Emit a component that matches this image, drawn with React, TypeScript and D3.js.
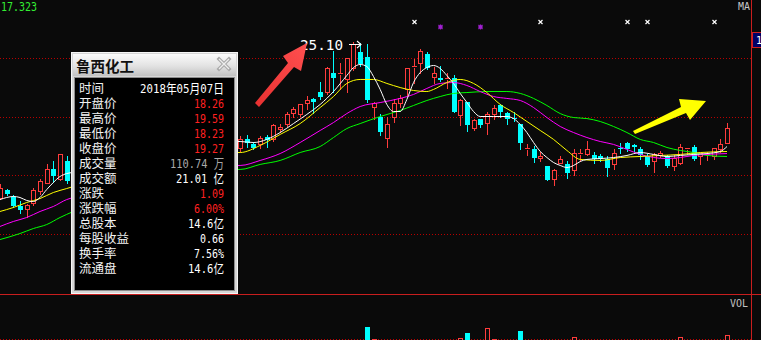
import React from "react";
import * as d3 from "d3";

const W = 761;
const H = 340;
const BG = "#0a0a0a";
const RED = "#ff3c3c";
const CYAN = "#00ffff";
const GRID = "#b80000";

// candle index (trading day position); 11..35 are covered by the info window
const candleIdx = [
  0, 1, 2, 3, 4, 5, 6, 7, 8, 9, 10,
  36, 37, 38, 39, 40, 41, 42, 43, 44, 45,
  46, 47, 48, 49, 50, 51, 52, 53, 54, 55,
  56, 57, 58, 59, 60, 61, 62, 63, 64, 65,
  66, 67, 68, 69, 70, 71, 72, 73, 74, 75,
  76, 77, 78, 79, 80, 81, 82, 83, 84, 85,
  86, 87, 88, 89, 90, 91, 92, 93, 94, 95,
  96, 97, 98, 99, 100, 101, 102, 103, 104, 105,
  106, 107, 108, 109,
];
const openP = [
  14.53, 15.01, 14.55, 13.92, 13.78, 14.19, 14.94, 15.55, 16.5, 15.82, 16.98,
  17.93, 18.48, 18.14, 18.14, 18.68, 18.48, 19.16, 19.5, 20.31, 20.18,
  20.93, 21.2, 21.74, 21.74, 23.03, 22.9, 22.56, 23.37, 24.46, 24.12,
  20.72, 20.04, 18.61, 20.04, 20.99, 21.88, 23.44, 23.71, 24.26, 22.76,
  22.63, 22.56, 22.69, 20.11, 21.06, 19.29, 19.84, 19.63, 20.18, 20.79,
  20.31, 19.97, 19.5, 17.8, 17.86, 17.25, 16.64, 15.82, 16.91, 16.84,
  16.37, 17.52, 17.46, 17.39, 17.32, 17.12, 16.78, 17.93, 18.27, 18.07,
  17.86, 17.32, 16.98, 17.39, 17.32, 16.64, 16.91, 17.8, 18.0, 17.32,
  17.39, 17.32, 17.86, 18.26,
];
const highP = [
  15.48, 15.14, 14.67, 14.26, 14.1, 15.2, 15.8, 16.8, 17.0, 17.5, 17.32,
  18.7, 18.75, 18.3, 18.7, 18.75, 19.5, 19.56, 20.33, 20.72, 20.9,
  21.42, 21.33, 22.4, 23.4, 24.48, 23.71, 24.0, 25.1, 25.05, 24.94,
  21.06, 20.18, 20.04, 21.2, 21.53, 23.37, 23.92, 24.6, 24.42, 23.44,
  23.51, 23.03, 22.83, 21.2, 21.06, 19.84, 19.84, 20.33, 20.79, 20.86,
  20.33, 20.38, 19.5, 18.14, 18.02, 17.6, 16.7, 16.44, 17.32, 16.98,
  17.8, 17.8, 18.36, 17.6, 17.5, 17.32, 17.8, 18.27, 18.3, 18.2,
  18.0, 17.46, 17.59, 17.7, 17.4, 17.39, 18.14, 17.93, 18.07, 17.59,
  17.6, 17.93, 18.48, 19.59,
];
const lowP = [
  14.4, 14.67, 13.88, 13.51, 13.2, 14.0, 14.8, 15.5, 15.6, 15.75, 15.55,
  17.7, 18.0, 17.8, 17.9, 18.0, 18.4, 19.02, 19.4, 20.04, 20.1,
  20.52, 20.31, 21.2, 21.6, 21.74, 21.88, 21.7, 23.2, 23.5, 21.06,
  19.84, 18.8, 18.0, 19.65, 20.72, 21.53, 22.35, 23.03, 23.3, 22.35,
  22.45, 21.95, 20.38, 19.43, 19.04, 19.11, 19.36, 18.88, 19.9, 20.0,
  19.5, 19.72, 17.86, 17.39, 16.93, 16.98, 15.69, 15.41, 16.91, 15.89,
  16.03, 16.98, 17.39, 16.9, 17.0, 15.98, 16.44, 17.59, 17.66, 17.66,
  17.18, 16.66, 16.25, 17.3, 16.6, 16.39, 16.78, 17.46, 17.05, 16.78,
  17.05, 17.12, 17.6, 18.23,
];
const closeP = [
  15.21, 14.8, 13.94, 13.71, 14.0, 15.01, 15.62, 16.44, 15.96, 17.46, 15.62,
  18.54, 18.27, 17.93, 18.61, 18.41, 19.43, 19.36, 20.24, 20.52, 20.86,
  21.15, 21.0, 21.4, 23.37, 22.69, 23.03, 23.99, 24.94, 23.58, 21.13,
  20.99, 19.02, 19.56, 20.93, 21.33, 23.31, 23.51, 24.53, 23.31, 23.03,
  22.49, 22.63, 20.38, 21.13, 19.43, 19.77, 19.43, 20.24, 20.65, 20.38,
  19.9, 19.9, 18.27, 17.93, 17.25, 17.32, 15.69, 16.37, 17.18, 16.23,
  17.59, 17.59, 17.86, 17.12, 17.18, 16.57, 17.59, 17.8, 17.8, 18.0,
  17.39, 16.71, 17.46, 17.59, 16.64, 17.25, 18.0, 17.93, 17.12, 17.59,
  17.52, 17.93, 18.2, 19.27,
];

// moving averages: [index, price]
const ma5: [number, number][] = [
  [0, 14.39], [1, 14.53], [2, 14.6], [3, 14.53], [4, 14.33], [5, 14.26], [6, 14.53], [7, 15.07], [8, 15.55], [9, 15.96], [10, 16.16], [11, 16.23],
  [35, 18.34], [36, 18.34], [38, 18.27], [40, 18.48], [42, 18.95], [44, 19.56], [46, 20.18], [48, 20.86], [50, 21.74], [52, 22.83], [53, 23.37], [54, 23.58],
  [55, 23.44], [56, 22.76], [57, 21.88], [58, 20.86], [59, 20.38], [60, 20.38], [61, 21.2], [62, 22.35], [63, 23.03], [64, 23.37], [65, 23.51],
  [66, 23.31], [67, 22.83], [68, 22.29], [69, 21.61], [70, 21.0], [71, 20.38], [72, 20.04], [74, 20.04], [76, 20.04], [77, 19.9], [78, 19.5],
  [79, 18.95], [80, 18.27], [81, 17.66], [82, 17.25], [83, 16.91], [84, 16.71], [85, 16.57], [86, 16.71], [87, 16.98], [88, 17.12], [90, 17.18],
  [92, 17.25], [94, 17.39], [96, 17.59], [98, 17.46], [100, 17.32], [102, 17.39], [104, 17.46], [106, 17.52], [108, 17.66], [109, 18.0],
];
const ma10: [number, number][] = [
  [0, 13.58], [2, 13.85], [4, 14.19], [6, 14.46], [8, 14.87], [10, 15.14], [11, 15.28],
  [35, 17.59], [36, 17.59], [39, 18.07], [42, 18.82], [45, 19.56], [48, 20.65], [50, 21.4], [52, 22.29], [54, 22.56], [56, 22.56],
  [58, 22.29], [60, 22.01], [62, 21.81], [64, 21.74], [65, 21.88], [67, 22.35], [69, 22.56], [71, 22.29], [73, 21.67], [75, 20.86],
  [77, 20.31], [79, 19.7], [81, 19.09], [83, 18.48], [85, 17.73], [87, 17.12], [90, 17.05], [93, 17.25], [96, 17.32], [99, 17.39],
  [102, 17.46], [105, 17.59], [109, 17.66],
];
const ma20: [number, number][] = [
  [0, 12.56], [2, 12.9], [4, 13.17], [6, 13.58], [8, 13.92], [10, 14.39], [11, 14.53],
  [35, 16.71], [36, 16.71], [39, 17.05], [42, 17.52], [45, 18.27], [48, 19.09], [50, 19.63], [52, 20.24], [54, 20.72], [57, 20.99],
  [60, 21.27], [62, 21.54], [64, 21.95], [66, 22.29], [68, 22.35], [70, 22.15], [72, 21.74], [74, 21.4], [76, 21.27], [78, 21.13],
  [80, 20.65], [82, 19.97], [84, 19.36], [86, 18.95], [88, 18.61], [90, 18.34], [92, 18.14], [94, 17.8], [96, 17.46], [98, 17.25],
  [100, 17.18], [102, 17.25], [104, 17.39], [106, 17.46], [109, 17.52],
];
const ma60: [number, number][] = [
  [0, 11.67], [3, 12.08], [5, 12.42], [7, 12.69], [9, 13.17], [11, 13.58],
  [35, 16.44], [36, 16.44], [39, 16.78], [42, 17.05], [45, 17.59], [48, 18.0], [50, 18.61], [52, 19.22], [54, 19.56], [57, 20.04],
  [60, 20.45], [62, 20.79], [64, 21.13], [66, 21.4], [68, 21.61], [70, 21.67], [73, 21.74], [76, 21.74], [78, 21.61], [80, 21.27],
  [82, 20.79], [84, 20.24], [86, 19.97], [88, 19.9], [90, 19.7], [92, 19.36], [94, 18.95], [96, 18.48], [98, 18.27], [100, 17.93],
  [102, 17.73], [104, 17.59], [106, 17.39], [109, 17.32],
];

// volume (万手) for bars that reach into the visible part of the VOL pane
const volIdx = [55, 56, 69, 70, 73, 74, 78, 86, 102, 109];
const volVal = [121.7, 105, 107, 114, 120, 105, 116, 108, 108, 110.74];

const gridPrices = [24, 20, 16, 12];
const whiteMarks = [62, 81, 94, 97, 107];
const purpleMarks = [66, 72];

const infoTitle = "鲁西化工";
const infoLabels = ["时间", "开盘价", "最高价", "最低价", "收盘价", "成交量", "成交额", "涨跌", "涨跌幅", "总股本", "每股收益", "换手率", "流通盘"];
const infoValues = ["2018年05月07日", "18.26", "19.59", "18.23", "19.27", "110.74 万", "21.01 亿", "1.09", "6.00%", "14.6亿", "0.66", "7.56%", "14.6亿"];
const infoColors = ["#ffffff", "#ff2020", "#ff2020", "#ff2020", "#ff2020", "#a8a8a8", "#ffffff", "#ff2020", "#ff2020", "#ffffff", "#ffffff", "#ffffff", "#ffffff"];

const peakLabel = "25.10";
const topLeftLabel = "17.323";

const MONO = "'DejaVu Sans Mono', 'Noto Sans CJK SC', monospace";
const CJK = "'Noto Sans CJK SC', sans-serif";

function textLen(s: string) {
  let n = 0;
  for (const ch of s) n += /[\u3000-\u9fff]/.test(ch) ? 12 : 6;
  return n;
}

function segments(pts: [number, number][]) {
  const out: [number, number][][] = [];
  let cur: [number, number][] = [];
  pts.forEach((p, i) => {
    if (i > 0 && p[0] - pts[i - 1][0] > 10) {
      out.push(cur);
      cur = [];
    }
    cur.push(p);
  });
  out.push(cur);
  return out;
}

export default function App() {
  const x = d3.scaleLinear().domain([0, 109]).range([0, 727]);
  const y = d3.scaleLinear().domain([8, 28]).range([293.5, -0.5]);
  const yv = d3.scaleLinear().domain([0, 140]).range([418, 313]);
  const px = (k: number) => Math.round(x(k));
  const line = d3
    .line<[number, number]>()
    .x((d) => x(d[0]))
    .y((d) => y(d[1]))
    .curve(d3.curveMonotoneX);

  const maSpecs: [[number, number][], string][] = [
    [ma60, "#00ff00"],
    [ma20, "#ff00ff"],
    [ma10, "#ffff00"],
    [ma5, "#ffffff"],
  ];

  const candles = candleIdx.map((k, i) => {
    const o = openP[i], h = highP[i], l = lowP[i], c = closeP[i];
    const up = c >= o;
    const cx = px(k);
    const yt = Math.round(y(Math.max(o, c)));
    const yb = Math.round(y(Math.min(o, c)));
    const yh = Math.round(y(h));
    const yl = Math.round(y(l));
    if (up) {
      const flat = yb - yt < 2;
      return (
        <g key={k}>
          <line x1={cx + 0.5} x2={cx + 0.5} y1={yh} y2={yt} stroke={RED} />
          <line x1={cx + 0.5} x2={cx + 0.5} y1={yb + 1} y2={yl + 1} stroke={RED} />
          {flat ? (
            <line x1={cx - 2} x2={cx + 3} y1={yt + 0.5} y2={yt + 0.5} stroke={RED} />
          ) : (
            <rect x={cx - 1.5} y={yt + 0.5} width={4} height={yb - yt} fill={BG} stroke={RED} />
          )}
        </g>
      );
    }
    return (
      <g key={k}>
        <line x1={cx + 0.5} x2={cx + 0.5} y1={yh} y2={yl + 1} stroke={CYAN} />
        <rect x={cx - 2} y={yt} width={5} height={Math.max(1, yb - yt)} fill={CYAN} />
      </g>
    );
  });

  const vols = volIdx.map((k, i) => {
    const cIdx = candleIdx.indexOf(k);
    const up = closeP[cIdx] >= openP[cIdx];
    const cx = px(k);
    const top = Math.round(yv(volVal[i]));
    return up ? (
      <rect key={k} x={cx - 1.5} y={top + 0.5} width={4} height={H + 10 - top} fill={BG} stroke={RED} />
    ) : (
      <rect key={k} x={cx - 2} y={top} width={5} height={H + 10 - top} fill={CYAN} />
    );
  });

  return (
    <svg
      width={W}
      height={H}
      viewBox={`0 0 ${W} ${H}`}
      style={{ position: "absolute", left: 0, top: 0, display: "block" }}
    >
      <defs>
        <linearGradient id="titleGrad" x1="0" y1="0" x2="0" y2="1">
          <stop offset="0%" stopColor="#fbfbfb" />
          <stop offset="55%" stopColor="#e2e2e2" />
          <stop offset="100%" stopColor="#c2c2c2" />
        </linearGradient>
        <linearGradient id="redArrow" x1="0" y1="1" x2="1" y2="0">
          <stop offset="0%" stopColor="#e83030" />
          <stop offset="100%" stopColor="#ff5050" />
        </linearGradient>
      </defs>
      <rect x={0} y={0} width={W} height={H} fill={BG} />

      {/* grid */}
      {gridPrices.map((p) => (
        <line key={p} x1={0} x2={751} y1={Math.floor(y(p)) + 0.5} y2={Math.floor(y(p)) + 0.5} stroke={GRID} strokeDasharray="1 2" />
      ))}
      <line x1={0} x2={751} y1={339.5} y2={339.5} stroke={GRID} strokeDasharray="1 2" />

      {/* volume */}
      {vols}

      {/* candles */}
      {candles}

      {/* moving averages */}
      {maSpecs.map(([pts, col], i) =>
        segments(pts).map((seg, j) => (
          <path key={`${i}-${j}`} d={line(seg) || ""} fill="none" stroke={col} strokeWidth={1} />
        ))
      )}

      {/* panel frames */}
      <line x1={0} x2={W} y1={294.5} y2={294.5} stroke="#c81e1e" />
      <line x1={751.5} x2={751.5} y1={0} y2={H} stroke="#c81e1e" />
      <rect x={752.5} y={32.5} width={9} height={15} fill="#000066" stroke="#d02020" />
      <text x={756} y={44} fontSize={10} fill="#ffffff" fontFamily={MONO}>1</text>

      {/* labels */}
      <text x={1} y={11} fontSize={12} fill="#33ee33" fontFamily={MONO} textLength={36} lengthAdjust="spacingAndGlyphs">{topLeftLabel}</text>
      <text x={738} y={10} fontSize={11} fill="#c8c8c8" fontFamily={MONO} textLength={12} lengthAdjust="spacingAndGlyphs">MA</text>
      <text x={730} y={307} fontSize={11} fill="#c0c0c0" fontFamily={MONO} textLength={18} lengthAdjust="spacingAndGlyphs">VOL</text>

      {/* markers */}
      {whiteMarks.map((k) => {
        const cx = px(k) + 0.5;
        return (
          <path key={k} d={`M${cx - 2},20 L${cx + 2},24 M${cx + 2},20 L${cx - 2},24`} stroke="#ffffff" strokeWidth={1.2} />
        );
      })}
      {purpleMarks.map((k) => {
        const cx = px(k) + 0.5;
        return (
          <path key={k} d={`M${cx - 2.5},27 L${cx + 2.5},27 M${cx},24.5 L${cx},29.5 M${cx - 2},25 L${cx + 2},29 M${cx + 2},25 L${cx - 2},29`} stroke="#a020d0" strokeWidth={1.1} />
        );
      })}

      {/* peak label */}
      <text x={300} y={50} fontSize={14} fill="#ffffff" fontFamily={MONO} textLength={43} lengthAdjust="spacingAndGlyphs">{peakLabel}</text>
      <path d="M349,44.5 H361 M357,41 L361,44.5 L357,48" fill="none" stroke="#ffffff" strokeWidth={1.1} />

      {/* arrows */}
      <polygon points="255,103 288,63 283,56 307,43 301,71 294,67 259,107" fill="url(#redArrow)" />
      <polygon points="633,131 681,107 679,99 706,101 690,120 686,113 635,134" fill="#ffff00" />

      {/* info window */}
      <g>
        <rect x={71} y={52} width={167} height={242} fill="#d6d6d6" />
        <rect x={71.5} y={52.5} width={166} height={241} fill="none" stroke="#f6f6f6" />
        <rect x={73} y={54} width={163} height={22} fill="url(#titleGrad)" />
        <text x={76} y={72} fontSize={14.5} fontWeight="bold" fill="#111111" fontFamily={CJK}>{infoTitle}</text>
        <path d="M219,59 L229,69 M229,59 L219,69" stroke="#a8a8a8" strokeWidth={3.5} strokeLinecap="square" />
        <path d="M219,59 L229,69 M229,59 L219,69" stroke="#eeeeee" strokeWidth={1.3} />
        <rect x={74.5} y={77.5} width={160} height={213} fill="#000000" stroke="#8c8c8c" />
        {infoLabels.map((lab, i) => (
          <text key={lab} x={79} y={93 + 15 * i} fontSize={12.5} fill="#f2f2f2" fontFamily={CJK}>{lab}</text>
        ))}
        {infoValues.map((v, i) => {
          const len = textLen(v);
          return (
            <text key={i} x={224 - len} y={93 + 15 * i} fontSize={13} fill={infoColors[i]} fontFamily={MONO} textLength={len} lengthAdjust="spacingAndGlyphs">{v}</text>
          );
        })}
      </g>
    </svg>
  );
}
